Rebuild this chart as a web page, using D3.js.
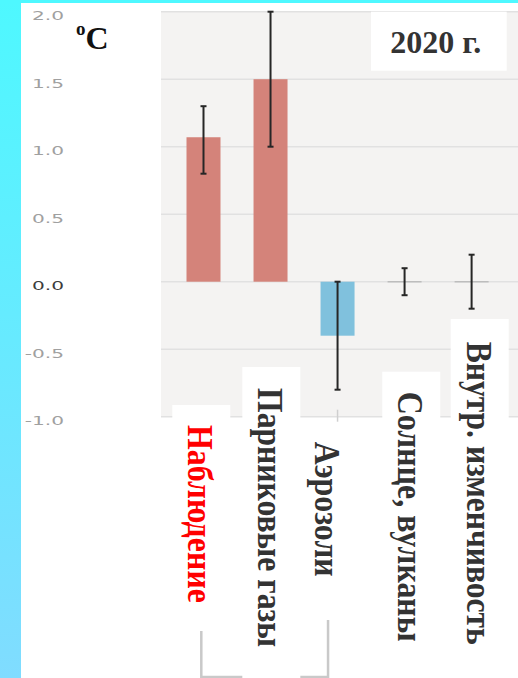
<!DOCTYPE html>
<html>
<head>
<meta charset="utf-8">
<script src="https://cdn.jsdelivr.net/npm/d3@7"></script>
<style>
  html, body { margin: 0; padding: 0; background: #ffffff; }
  svg { display: block; }
</style>
</head>
<body>
<svg id="chart" width="518" height="678"></svg>
<script>
// Contributions to 2020 warming, °C
const categories = ["Наблюдение", "Парниковые газы", "Аэрозоли", "Солнце, вулканы", "Внутр. изменчивость"];
const values     = [1.07, 1.5, -0.4, 0, 0];
const errLow     = [0.8, 1.0, -0.8, -0.1, -0.2];
const errHigh    = [1.3, 2.0, 0.0, 0.1, 0.2];
const yTicks     = [-1.0, -0.5, 0.0, 0.5, 1.0, 1.5, 2.0];
const unitLabel  = "C";
const yearLabel  = "2020 г.";

const W = 518, H = 678;
const svg = d3.select("#chart");

// frame: cyan strips on the left and top
const defs = svg.append("defs");
const grad = defs.append("linearGradient").attr("id", "side").attr("x1", 0).attr("y1", 0).attr("x2", 0).attr("y2", 1);
grad.append("stop").attr("offset", "0%").attr("stop-color", "#4ef8ff");
grad.append("stop").attr("offset", "100%").attr("stop-color", "#80dcff");
svg.append("rect").attr("x", 0).attr("y", 0).attr("width", 21).attr("height", H).attr("fill", "url(#side)");
svg.append("rect").attr("x", 0).attr("y", 0).attr("width", W).attr("height", 3).attr("fill", "#4ef8ff");
svg.append("rect").attr("x", 21).attr("y", 3).attr("width", W - 21).attr("height", H - 3).attr("fill", "#ffffff");

// scales
const plotLeft = 161, plotRight = W;
const y = d3.scaleLinear().domain([-1, 2]).range([416.7, 11.7]);
const x = d3.scaleBand().domain(categories).range([186.5, 488.6]).paddingInner(0.4928).paddingOuter(0);
const cx = c => x(c) + x.bandwidth() / 2;

// plot background and grid
svg.append("rect")
  .attr("x", plotLeft).attr("y", y(2)).attr("width", plotRight - plotLeft).attr("height", y(-1) - y(2))
  .attr("fill", "#f4f3f2");
svg.append("g").selectAll("line").data(yTicks).join("line")
  .attr("x1", plotLeft).attr("x2", plotRight)
  .attr("y1", d => y(d)).attr("y2", d => y(d))
  .attr("stroke", "#e1e1e1").attr("stroke-width", 1.5);

// y tick labels (wide numerals)
svg.append("g").selectAll("text").data(yTicks).join("text")
  .attr("transform", d => `translate(64,${y(d) + 8.5}) scale(1.68,1)`)
  .attr("text-anchor", "end")
  .attr("font-family", "DejaVu Sans, sans-serif")
  .attr("font-size", 12)
  .attr("fill", d => d === 0 ? "#3c3c3c" : "#a0a0a0")
  .text(d => d3.format(".1f")(d).replace("−", "-"));

// x ticks along the bottom of the plot
svg.append("g").selectAll("line").data(categories).join("line")
  .attr("x1", d => cx(d)).attr("x2", d => cx(d))
  .attr("y1", y(-1) - 7).attr("y2", y(-1) + 5)
  .attr("stroke", "#cfcfcf").attr("stroke-width", 1.5);

const rows = categories.map((c, i) => ({ c, i, v: values[i], lo: errLow[i], hi: errHigh[i] }));

// bars
svg.append("g").selectAll("rect").data(rows.filter(d => d.v !== 0)).join("rect")
  .attr("x", d => x(d.c)).attr("width", x.bandwidth())
  .attr("y", d => y(Math.max(0, d.v)))
  .attr("height", d => Math.abs(y(d.v) - y(0)))
  .attr("fill", d => d.v > 0 ? "#d4837a" : "#80c1dd");

// zero-height bars show as a thin segment on the zero line
svg.append("g").selectAll("line").data(rows.filter(d => d.v === 0)).join("line")
  .attr("x1", d => x(d.c)).attr("x2", d => x(d.c) + x.bandwidth())
  .attr("y1", y(0)).attr("y2", y(0))
  .attr("stroke", "#bdbdbd").attr("stroke-width", 1.5);

// error bars
const eb = svg.append("g").attr("stroke", "#262626").attr("stroke-width", 2).attr("fill", "none");
eb.selectAll("line.v").data(rows).join("line").attr("class", "v")
  .attr("x1", d => cx(d.c)).attr("x2", d => cx(d.c))
  .attr("y1", d => y(d.hi)).attr("y2", d => y(d.lo));
eb.selectAll("line.t").data(rows).join("line").attr("class", "t")
  .attr("x1", d => cx(d.c) - 3).attr("x2", d => cx(d.c) + 3)
  .attr("y1", d => y(d.hi)).attr("y2", d => y(d.hi));
eb.selectAll("line.b").data(rows).join("line").attr("class", "b")
  .attr("x1", d => cx(d.c) - 3).attr("x2", d => cx(d.c) + 3)
  .attr("y1", d => y(d.lo)).attr("y2", d => y(d.lo));

// category labels: vertical bold serif text on white cards
const labelLayout = [
  { dx: -15.2, boxTop: 405,   boxBottom: 631, textTop: 425,   len: 178 },
  { dx: -12.2, boxTop: 367,   boxBottom: 678, textTop: 388,   len: 259 },
  { dx: -22.5, boxTop: 425,   boxBottom: 620, textTop: 441.7, len: 135 },
  { dx: -6.3,  boxTop: 371.7, boxBottom: 660, textTop: 391.7, len: 250 },
  { dx: -4.9,  boxTop: 319,   boxBottom: 660, textTop: 341.7, len: 303 }
];
const labels = rows.map(d => Object.assign({}, d, labelLayout[d.i], { base: cx(d.c) + labelLayout[d.i].dx }));

// bracket joining the observed and aerosol cards
const bx0 = labels[0].base + 13, bx1 = labels[2].base + 13, by = 677;
svg.append("path")
  .attr("d", `M${bx0},${labels[0].boxBottom} V${by} H${bx1} V${labels[2].boxBottom}`)
  .attr("fill", "none").attr("stroke", "#c9c9c9").attr("stroke-width", 2.5);

svg.append("g").selectAll("rect").data(labels).join("rect")
  .attr("x", d => d.base + 13 - 29).attr("width", 58)
  .attr("y", d => d.boxTop).attr("height", d => d.boxBottom - d.boxTop)
  .attr("fill", "#ffffff");

svg.append("g").selectAll("text").data(labels).join("text")
  .attr("transform", d => `translate(${d.base},${d.textTop}) rotate(90)`)
  .attr("font-family", "Liberation Serif, Times New Roman, serif")
  .attr("font-weight", "bold")
  .attr("font-size", 35)
  .attr("fill", d => d.i === 0 ? "#ff0000" : "#333333")
  .attr("textLength", d => d.len)
  .attr("lengthAdjust", "spacingAndGlyphs")
  .text(d => d.c);

// unit label
const unit = svg.append("text")
  .attr("x", 76).attr("y", 49)
  .attr("font-family", "Liberation Serif, Times New Roman, serif")
  .attr("font-weight", "bold")
  .attr("fill", "#111111");
unit.append("tspan").attr("font-size", 19).attr("dy", -14).text("o");
unit.append("tspan").attr("font-size", 32).attr("dy", 14).text(unitLabel);

// year card
svg.append("rect").attr("x", 371).attr("y", 11.7).attr("width", 135.7).attr("height", 59).attr("fill", "#ffffff");
svg.append("text")
  .attr("x", 435.7).attr("y", 53.3)
  .attr("text-anchor", "middle")
  .attr("font-family", "Liberation Serif, Times New Roman, serif")
  .attr("font-weight", "bold")
  .attr("font-size", 32)
  .attr("fill", "#333333")
  .text(yearLabel);
</script>
</body>
</html>
